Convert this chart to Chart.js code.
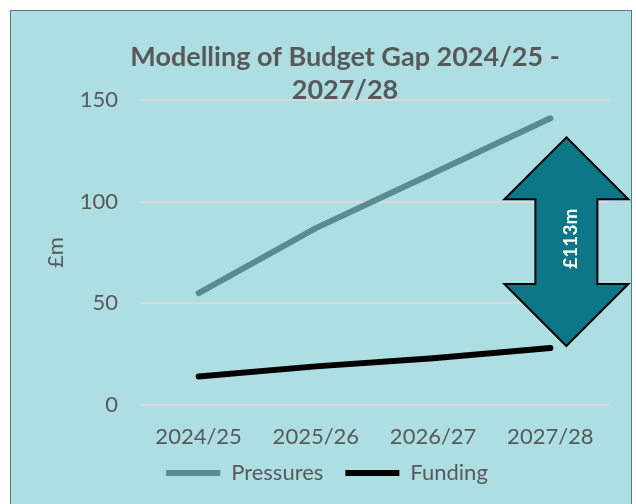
<!DOCTYPE html>
<html>
<head>
<meta charset="utf-8">
<script src="https://cdn.jsdelivr.net/npm/chart.js"></script>
<style>
  html, body { margin: 0; padding: 0; background: #ffffff; }
  #box {
    position: absolute; left: 10px; top: 10px;
    width: 620px; height: 494px;
    border: 1px solid #52797b;
    background: #addee2;
  }
  #gapChart { display: block; }
</style>
</head>
<body>
<div id="box"><canvas id="gapChart" width="620" height="494"></canvas></div>

<script>
// Datos del gráfico
const years = ['2024/25', '2025/26', '2026/27', '2027/28'];
const pressures = [55, 87, 114, 141];
const funding = [14, 19, 23, 28];
const yTicks = [0, 50, 100, 150];
const titleLines = ['Modelling of Budget Gap 2024/25 -', '2027/28'];
const gapLabel = '£113m';

const textColor = '#595959';
const fontFamily = 'Lato, "Open Sans", sans-serif';

// Título (centrado como en el original, algo a la derecha)
const chartTitle = {
    id: 'chartTitle',
    afterDraw(chart) {
        const ctx = chart.ctx;
        ctx.save();
        ctx.fillStyle = textColor;
        ctx.font = 'bold 27px ' + fontFamily;
        ctx.textAlign = 'center';
        ctx.textBaseline = 'middle';
        titleLines.forEach((line, i) => {
            ctx.fillText(line, 334, 46 + i * 33);
        });
        ctx.restore();
    }
};

// Subir un poco la leyenda para acercarla a las etiquetas del eje X
const legendNudge = {
    id: 'legendNudge',
    afterLayout(chart) {
        chart.legend.top -= 10;
        chart.legend.bottom -= 10;
        chart.legend.left += 3;
        chart.legend.right += 3;
    }
};

// Flecha doble con el gap entre presiones y financiación
const gapArrow = {
    id: 'gapArrow',
    afterDatasetsDraw(chart) {
        const ctx = chart.ctx;
        const x = chart.scales.x.getPixelForValue(years.length - 1) + 16;
        const y = chart.scales.y;
        const top = y.getPixelForValue(pressures[pressures.length - 1]) + 19;
        const bottom = y.getPixelForValue(funding[funding.length - 1]) - 2;
        const headW = 62, shaftW = 31, headH = 62;

        ctx.save();
        ctx.beginPath();
        ctx.moveTo(x, top);
        ctx.lineTo(x + headW, top + headH);
        ctx.lineTo(x + shaftW, top + headH);
        ctx.lineTo(x + shaftW, bottom - headH);
        ctx.lineTo(x + headW, bottom - headH);
        ctx.lineTo(x, bottom);
        ctx.lineTo(x - headW, bottom - headH);
        ctx.lineTo(x - shaftW, bottom - headH);
        ctx.lineTo(x - shaftW, top + headH);
        ctx.lineTo(x - headW, top + headH);
        ctx.closePath();
        ctx.fillStyle = '#0d7787';
        ctx.fill();
        ctx.lineWidth = 2;
        ctx.strokeStyle = '#000000';
        ctx.stroke();

        ctx.translate(x + 4, (top + bottom) / 2 - 3);
        ctx.rotate(-Math.PI / 2);
        ctx.fillStyle = '#ffffff';
        ctx.font = 'bold 19px ' + fontFamily;
        ctx.textAlign = 'center';
        ctx.textBaseline = 'middle';
        ctx.fillText(gapLabel, 0, 0);
        ctx.restore();
    }
};

new Chart(document.getElementById('gapChart'), {
    type: 'line',
    data: {
        labels: years,
        datasets: [
            {
                label: 'Pressures',
                data: pressures,
                borderColor: '#5a8c8f',
                backgroundColor: '#5a8c8f',
                borderWidth: 6,
                borderCapStyle: 'round',
                pointRadius: 0,
                tension: 0
            },
            {
                label: 'Funding',
                data: funding,
                borderColor: '#000000',
                backgroundColor: '#000000',
                borderWidth: 6,
                borderCapStyle: 'round',
                pointRadius: 0,
                tension: 0
            }
        ]
    },
    options: {
        responsive: false,
        animation: false,
        layout: { padding: { left: 28, right: 22, top: 89, bottom: 1 } },
        plugins: {
            title: { display: false },
            legend: {
                position: 'bottom',
                labels: {
                    color: textColor,
                    font: { family: fontFamily, size: 22 },
                    usePointStyle: true,
                    pointStyle: 'line',
                    pointStyleWidth: 54,
                    boxWidth: 54,
                    padding: 22
                }
            },
            tooltip: { enabled: false }
        },
        scales: {
            x: {
                offset: true,
                grid: { display: false, drawTicks: false },
                border: { display: false },
                ticks: {
                    color: textColor,
                    font: { family: fontFamily, size: 22 },
                    padding: 19
                },
                afterFit: (scale) => { scale.height = 45; }
            },
            y: {
                min: yTicks[0],
                max: yTicks[yTicks.length - 1],
                afterBuildTicks: (scale) => {
                    scale.ticks = yTicks.map(v => ({ value: v }));
                },
                grid: { color: '#d9d9d9', lineWidth: 2, drawTicks: false },
                border: { display: false },
                ticks: {
                    color: textColor,
                    font: { family: fontFamily, size: 22 },
                    padding: 22
                },
                title: {
                    display: true,
                    text: '£m',
                    color: textColor,
                    font: { family: fontFamily, size: 22 },
                    padding: { top: 4, bottom: 0 }
                },
                afterFit: (scale) => { scale.width = 101; }
            }
        }
    },
    plugins: [gapArrow, chartTitle, legendNudge]
});
</script>
</body>
</html>
